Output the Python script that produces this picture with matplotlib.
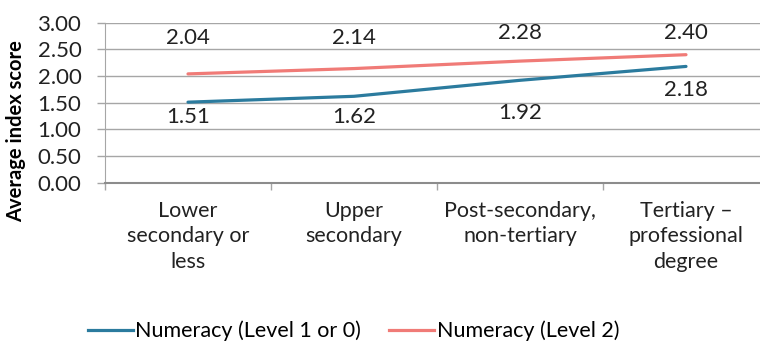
import matplotlib
matplotlib.use("Agg")
import matplotlib.pyplot as plt
from matplotlib.lines import Line2D

plt.rcParams['font.family'] = ['Lato', 'DejaVu Sans']

categories = ["Lower\nsecondary or\nless", "Upper\nsecondary",
              "Post-secondary,\nnon-tertiary", "Tertiary \u2013\nprofessional\ndegree"]
level1 = [1.51, 1.62, 1.92, 2.18]
level2 = [2.04, 2.14, 2.28, 2.40]
series_names = ["Numeracy (Level 1 or 0)", "Numeracy (Level 2)"]
yticks = [0.0, 0.5, 1.0, 1.5, 2.0, 2.5, 3.0]

blue = "#2b7b9e"
red = "#f07b77"
grid = "#a6a6a6"
text_c = "#222222"

fig = plt.figure(figsize=(7.6, 3.41), dpi=100)
ax = fig.add_axes([105 / 760, 1 - 182.7 / 341, 664 / 760, 160 / 341])

x = list(range(len(categories)))
ax.plot(x, level1, color=blue, lw=2.3, solid_capstyle='round')
ax.plot(x, level2, color=red, lw=2.3, solid_capstyle='round')

ax.set_xlim(-0.5, len(categories) - 0.5)
ax.set_ylim(0, 3)
ax.set_yticks(yticks)
ax.set_yticklabels([f"{v:.2f}" for v in yticks], fontsize=16, color=text_c)
ax.yaxis.grid(True, color=grid, lw=1.0)
ax.set_axisbelow(True)

# category boundaries as ticks, labels centred on the points
ax.set_xticks([i - 0.5 for i in range(len(categories) + 1)])
ax.set_xticklabels([])
ax.set_xticks(x, minor=True)
ax.set_xticklabels(categories, minor=True, fontsize=15.5, color=text_c,
                   linespacing=1.35, va='top')
ax.tick_params(axis='x', which='minor', length=0, pad=13)
ax.tick_params(axis='x', which='major', length=5, color=grid, width=1)
ax.tick_params(axis='y', length=6, color=grid, width=1, pad=11)

for s in ['top', 'right']:
    ax.spines[s].set_visible(False)
ax.spines['left'].set_color(grid)
ax.spines['bottom'].set_color("#8c8c8c")
ax.spines['bottom'].set_linewidth(1.5)

ax.set_ylabel("Average index score", fontsize=14.5, fontweight='bold')
ax.yaxis.set_label_coords(-0.119, 0.32)

# value labels (pixel offsets from each point)
off2 = [36, 31, 28, 22]
off1 = [-15, -21, -33, -24]
for i, v in enumerate(level2):
    ax.annotate(f"{v:.2f}", (i, v), xytext=(0, off2[i] * 0.72), textcoords='offset points',
                ha='center', va='center', fontsize=16, color=text_c)
for i, v in enumerate(level1):
    ax.annotate(f"{v:.2f}", (i, v), xytext=(0, off1[i] * 0.72), textcoords='offset points',
                ha='center', va='center', fontsize=16, color=text_c)

handles = [Line2D([], [], color=blue, lw=2.3), Line2D([], [], color=red, lw=2.3)]
fig.legend(handles, series_names, loc='center left', bbox_to_anchor=(88 / 760, 1 - 331 / 341),
           ncol=2, frameon=False, fontsize=15.5, handlelength=2.1, handletextpad=0.1,
           columnspacing=1.3, borderpad=0, borderaxespad=0)

fig.savefig("out.png", dpi=100)
